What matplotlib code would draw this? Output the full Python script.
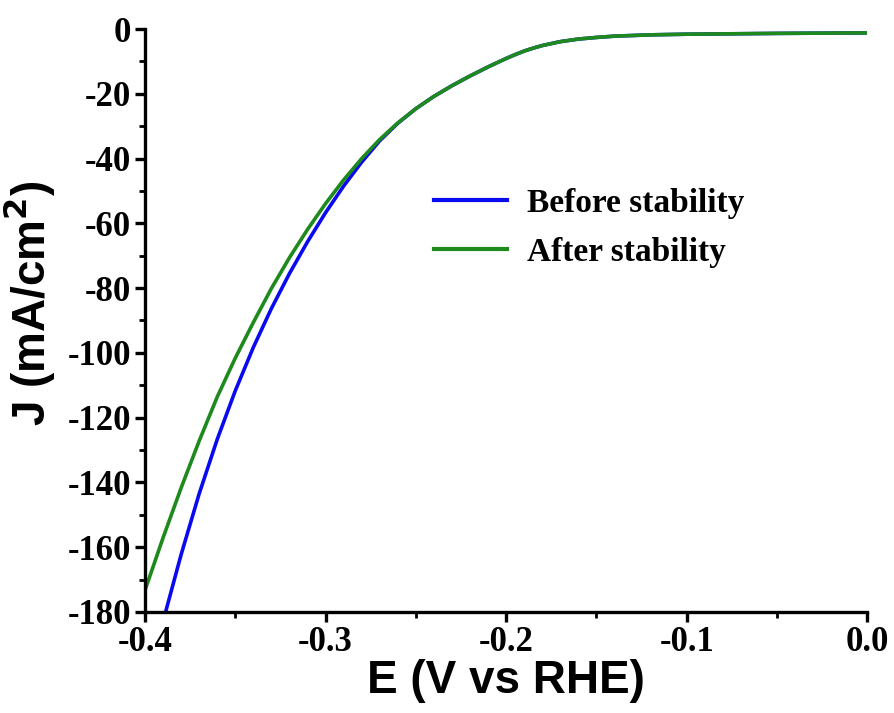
import numpy as np
import matplotlib
matplotlib.use("Agg")
import matplotlib.pyplot as plt
from matplotlib.ticker import MultipleLocator, FormatStrFormatter

plt.rcParams["axes.unicode_minus"] = False

# LSV curves (E in V vs RHE, J in mA/cm2)
e_after = [-0.40, -0.39, -0.38, -0.37, -0.36, -0.35, -0.34, -0.33, -0.32, -0.31,
           -0.30, -0.29, -0.28, -0.27, -0.26, -0.25, -0.24, -0.23, -0.22, -0.21,
           -0.20, -0.195, -0.19, -0.185, -0.18, -0.175, -0.17, -0.165, -0.16, -0.15,
           -0.14, -0.13, -0.12, -0.10, -0.08, -0.05, -0.02, 0.00]
j_after = [-173.3, -157.1, -141.7, -127.2, -113.6, -101.6, -90.6, -80.1, -70.6, -61.9,
           -53.9, -46.6, -40.0, -34.1, -29.0, -24.6, -20.8, -17.5, -14.5, -11.7,
           -9.1, -7.9, -6.8, -5.9, -5.1, -4.5, -3.9, -3.5, -3.1, -2.6,
           -2.2, -2.0, -1.8, -1.6, -1.5, -1.35, -1.25, -1.2]

e_before = [-0.390, -0.380, -0.370, -0.360, -0.350, -0.340, -0.330, -0.320, -0.310,
            -0.300, -0.290, -0.280, -0.270, -0.260]
j_before = [-182.9, -162.3, -143.5, -126.7, -111.7, -98.3, -86.3, -75.5, -65.7,
            -56.7, -48.5, -41.1, -34.5, -29.1]
# above -0.26 V both scans coincide
e_before = e_before + e_after[15:]
j_before = j_before + j_after[15:]

labels = ["Before stability", "After stability"]
colors = ["#0a0af0", "#1e8a1e"]

fig = plt.figure(figsize=(8.95, 7.13), dpi=100)
ax = fig.add_axes([0.162, 0.1417, 0.807, 0.8176])

ax.plot(e_before, j_before, color=colors[0], lw=2.6, label=labels[0])
ax.plot(e_after, j_after, color=colors[1], lw=2.6, label=labels[1])

ax.set_xlim(-0.4, 0.0)
ax.set_ylim(-180, 0)
ax.xaxis.set_major_locator(MultipleLocator(0.1))
ax.xaxis.set_minor_locator(MultipleLocator(0.05))
ax.yaxis.set_major_locator(MultipleLocator(20))
ax.yaxis.set_minor_locator(MultipleLocator(10))
ax.xaxis.set_major_formatter(FormatStrFormatter("%.1f"))

for s in ["top", "right"]:
    ax.spines[s].set_visible(False)
for s in ["left", "bottom"]:
    ax.spines[s].set_linewidth(2.4)

ax.tick_params(which="major", direction="out", length=7, width=2.4, pad=3)
ax.tick_params(which="minor", direction="out", length=4, width=2.0)
for lab in ax.get_xticklabels() + ax.get_yticklabels():
    lab.set_fontfamily("Liberation Serif")
    lab.set_fontweight("bold")
    lab.set_fontsize(25)

ax.set_xlabel("E (V vs RHE)", fontfamily="Liberation Sans", fontweight="bold",
              fontsize=33, labelpad=0)
ax.set_ylabel("J (mA/cm$^\\mathbf{2}$)", fontfamily="Liberation Sans", fontweight="bold",
              fontsize=33)
ax.yaxis.set_label_coords(-0.122, 0.53)

leg = ax.legend(loc="upper left", bbox_to_anchor=(0.4, 0.728), frameon=False,
                prop={"family": "Liberation Serif", "weight": "bold", "size": 24},
                handlelength=2.2, handletextpad=0.6, labelspacing=0.55,
                borderpad=0, borderaxespad=0)
for h in leg.get_lines():
    h.set_linewidth(3)

fig.savefig("out.png", dpi=100)
